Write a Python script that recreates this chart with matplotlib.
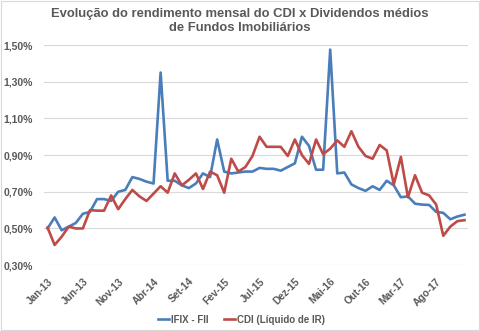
import numpy as np
import matplotlib
matplotlib.use("Agg")
import matplotlib.pyplot as plt
from matplotlib.patches import Rectangle

# monthly yields (%), Jan-13 .. Dec-17
ifix = [0.50, 0.56, 0.49, 0.51, 0.53, 0.58, 0.59, 0.66, 0.66, 0.65,
        0.70, 0.71, 0.78, 0.77, 0.755, 0.745, 1.35, 0.76, 0.76, 0.735,
        0.72, 0.745, 0.80, 0.78, 0.985, 0.81, 0.80, 0.805, 0.81, 0.81,
        0.83, 0.825, 0.825, 0.815, 0.835, 0.855, 1.00, 0.95, 0.82, 0.82,
        1.475, 0.80, 0.805, 0.74, 0.72, 0.705, 0.73, 0.71, 0.76, 0.735,
        0.67, 0.675, 0.635, 0.63, 0.628, 0.59, 0.585, 0.55, 0.565, 0.575]
cdi = [0.505, 0.41, 0.455, 0.51, 0.50, 0.50, 0.60, 0.597, 0.597, 0.68,
       0.605, 0.66, 0.71, 0.675, 0.65, 0.69, 0.73, 0.695, 0.80, 0.735,
       0.765, 0.80, 0.715, 0.81, 0.79, 0.695, 0.88, 0.81, 0.835, 0.895,
       1.00, 0.945, 0.945, 0.945, 0.895, 0.985, 0.90, 0.852, 0.985, 0.905,
       0.935, 0.98, 0.945, 1.03, 0.945, 0.895, 0.88, 0.955, 0.925, 0.74,
       0.89, 0.67, 0.79, 0.695, 0.68, 0.63, 0.46, 0.51, 0.54, 0.545]

meses = ["Jan", "Fev", "Mar", "Abr", "Mai", "Jun",
         "Jul", "Ago", "Set", "Out", "Nov", "Dez"]
labels = [f"{meses[i % 12]}-{13 + i // 12}" for i in range(len(ifix))]

yticks = [0.30, 0.50, 0.70, 0.90, 1.10, 1.30, 1.50]

plt.rcParams["font.family"] = ["Liberation Sans", "DejaVu Sans"]
txt = "#595959"

fig = plt.figure(figsize=(4.8, 3.31), dpi=100)
ax = fig.add_axes([0.0917, 0.199, 0.8833, 0.665])

x = np.arange(len(ifix))
ax.plot(x, ifix, color="#4a7ebb", lw=1.9, label="IFIX - FII", solid_joinstyle="round")
ax.plot(x, cdi, color="#be4b48", lw=1.9, label="CDI (Líquido de IR)", solid_joinstyle="round")

ax.set_xlim(-0.5, len(ifix) - 0.5)
ax.set_ylim(0.30, 1.50)
ax.set_yticks(yticks)
ax.set_yticklabels([f"{v:.2f}%".replace(".", ",") for v in yticks],
                   fontsize=7.5, color=txt, fontweight="bold")
ax.set_xticks(x[::5])
ax.set_xticklabels(labels[::5], rotation=45, ha="right", rotation_mode="anchor",
                   fontsize=7.3, color=txt, fontweight="bold")
ax.tick_params(axis="both", length=0)
ax.tick_params(axis="y", pad=8)
ax.tick_params(axis="x", pad=8)
ax.grid(axis="y", color="#d9d9d9", lw=0.8)
ax.set_axisbelow(True)
for s in ax.spines.values():
    s.set_visible(False)

fig.text(0.5, 0.936, "Evolução do rendimento mensal do CDI x Dividendos médios\nde Fundos Imobiliários",
         ha="center", va="center", fontsize=9.4, fontweight="bold", color=txt, linespacing=1.2)

fig.legend(loc="center", bbox_to_anchor=(0.503, 0.034), ncol=2, frameon=False,
           handlelength=1.1, handletextpad=0.2, columnspacing=1.6,
           prop={"weight": "bold", "size": 7})
for t in fig.legends[0].get_texts():
    t.set_color(txt)

fig.patches.append(Rectangle((0.002, 0.003), 0.996, 0.994, transform=fig.transFigure,
                             fill=False, edgecolor="#d9d9d9", lw=0.8))

fig.savefig("out.png", dpi=100)
